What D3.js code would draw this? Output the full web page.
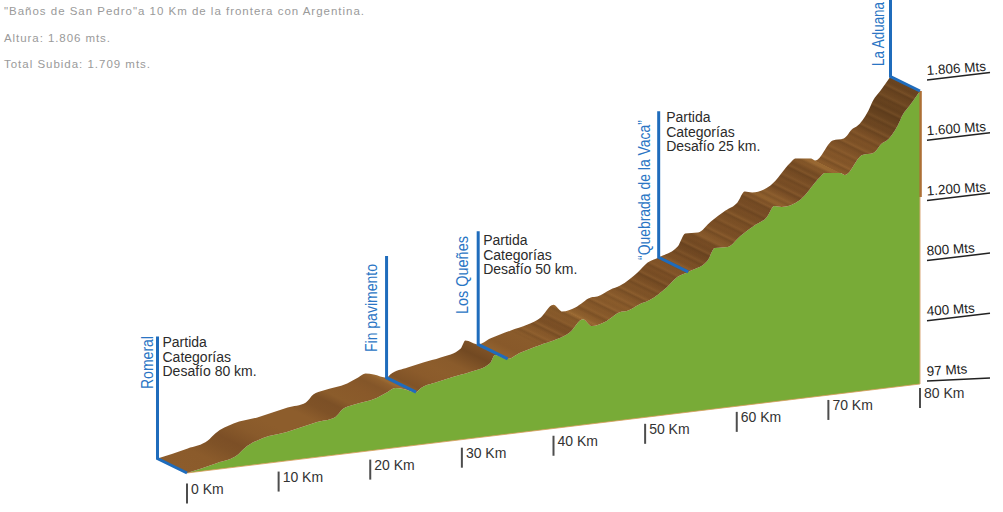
<!DOCTYPE html>
<html>
<head>
<meta charset="utf-8">
<style>
html, body { margin: 0; padding: 0; background: #fff; overflow: hidden; }
text { font-family: "Liberation Sans", Arial, sans-serif; }
</style>
<script src="https://cdn.jsdelivr.net/npm/d3@7"></script>
</head>
<body>
<script>
// profile
var km = [0, 3.3, 5.5, 6.3, 8.3, 10.9, 14.2, 16.2, 17, 18.1, 20.7, 21.9, 22.7, 23.6, 25, 25.4, 27.3, 29, 30.9, 33.1,
  33.6, 35, 36.3, 38.5, 40.4, 41.8, 43.2, 44.2, 45.6, 47.3, 48, 49.4, 50.5, 52.4, 53.5, 54.7, 56.8, 57.6, 59, 60.4,
  62, 63.3, 64.1, 64.9, 66.9, 69.1, 69.6, 71.3, 71.8, 73.7, 74.9, 75.9, 76.3, 77.6, 78.1, 78.9, 80];
var metres = [97, 134, 166, 202, 247, 266, 302, 319, 360, 376, 400, 427, 445, 434, 406, 422, 450, 469, 485, 524,
  567, 535, 561, 593, 616, 647, 714, 667, 682, 729, 730, 761, 778, 842, 893, 915, 966, 1035, 1032, 1088,
  1141, 1180, 1238, 1227, 1255, 1375, 1395, 1384, 1369, 1473, 1477, 1529, 1538, 1623, 1678, 1730, 1806];

var kmTicks = [0, 10, 20, 30, 40, 50, 60, 70, 80];
var altLabels = ["97 Mts", "400 Mts", "800 Mts", "1.200 Mts", "1.600 Mts", "1.806 Mts"];

var placeNames = ["Romeral", "Fin pavimento", "Los Queñes", "“Quebrada de la Vaca”", "La Aduana"];
var placeKm = [0, 25, 35, 54.7, 80];
var poleMetres = [712, 710, 660, 852, 600];
var noteLines = [["Partida", "Categorías", "Desafío 80 km."], null,
  ["Partida", "Categorías", "Desafío 50 km."], ["Partida", "Categorías", "Desafío 25 km."], null];

var headerLines = ["\"Baños de San Pedro\"a 10 Km de la frontera con Argentina.", "Altura: 1.806 mts.", "Total Subida: 1.709 mts."];

var w = 1003, h = 512;
var depthX = -29.5, depthY = -14.5;

var svg = d3.select("body").append("svg").attr("width", w).attr("height", h);
var defs = svg.append("defs");

var xKm = d3.scaleLinear().domain([0, 80]).range([187, 920]);
var yBase = d3.scaleLinear().domain([0, 80]).range([473, 384]);
var lift = d3.scaleLinear().domain([97, 1806]).range([0, 293]);
var poleLen = d3.scaleLinear().domain([0, 1709]).range([0, 293]);
var yTick = d3.scaleLinear().domain([0, 80]).range([483.5, 388]);
var yAlt = d3.scalePoint().domain(altLabels).range([381, 80]);

var front = km.map((k, i) => [xKm(k), yBase(k) - lift(metres[i])]);
var back = front.map((p) => [p[0] + depthX, p[1] + depthY]);
var elevAt = (k) => metres[km.indexOf(k)];
var curved = d3.line().curve(d3.curveMonotoneX);
var ribbon = (a, b) => curved(a) + "L" + curved(b.slice().reverse()).slice(1) + "Z";

// green side wall
svg.append("path")
  .attr("d", curved(front) + "L" + xKm(80) + "," + yBase(80) + "L" + xKm(0) + "," + yBase(0) + "Z")
  .attr("fill", "#78ab37");

svg.append("line")
  .attr("x1", xKm(0)).attr("y1", yBase(0)).attr("x2", xKm(80)).attr("y2", yBase(80))
  .attr("stroke", "#d99a5b").attr("stroke-width", 0.8);
svg.append("line")
  .attr("x1", xKm(80)).attr("y1", yBase(80)).attr("x2", xKm(80)).attr("y2", 197)
  .attr("stroke", "#d9a878").attr("stroke-width", 1);
svg.append("line")
  .attr("x1", xKm(80) + 0.6).attr("y1", front[front.length - 1][1]).attr("x2", xKm(80) + 0.6).attr("y2", 197)
  .attr("stroke", "#ad6f35").attr("stroke-width", 2.4);

// brown top surface: one gradient running square to the depth direction,
// with a stop per profile point, so the colour bands follow the ribs
var shade = d3.scaleLinear().domain([-0.2, 0.3, 0.8, 1.6])
  .range(["#9c6b33", "#8d5d2c", "#7a4e25", "#65411e"]).clamp(true);
var slopes = d3.pairs(front).map((p) => (p[0][1] - p[1][1]) / (p[1][0] - p[0][0]));
var vertexShade = front.map((p, i) => shade((slopes[Math.max(i - 1, 0)] + slopes[Math.min(i, slopes.length - 1)]) / 2));

var len = Math.hypot(depthX, depthY);
var nx = -depthY / len, ny = depthX / len;
var along = front.map((p) => (p[0] - front[0][0]) * nx + (p[1] - front[0][1]) * ny);
var total = d3.max(along);
var grad = defs.append("linearGradient").attr("id", "ribs")
  .attr("gradientUnits", "userSpaceOnUse")
  .attr("x1", front[0][0]).attr("y1", front[0][1])
  .attr("x2", front[0][0] + nx * total).attr("y2", front[0][1] + ny * total);
grad.selectAll("stop").data(front).enter().append("stop")
  .attr("offset", (d, i) => Math.max(0, d3.max(along.slice(0, i + 1))) / total)
  .attr("stop-color", (d, i) => vertexShade[i]);

svg.append("path")
  .attr("d", ribbon(front, back))
  .attr("fill", "url(#ribs)");

// faint striations on the upper part of the climb
var stripe = defs.append("linearGradient").attr("id", "stripes")
  .attr("gradientUnits", "userSpaceOnUse")
  .attr("spreadMethod", "repeat")
  .attr("x1", 0).attr("y1", 0).attr("x2", nx * 23).attr("y2", ny * 23);
[[0, "#3a2410", 0], [0.12, "#3a2410", 0.14], [0.24, "#c08a4c", 0.12], [0.45, "#3a2410", 0.02], [0.6, "#3a2410", 0.18], [0.7, "#c08a4c", 0.14], [0.86, "#3a2410", 0.06], [1, "#3a2410", 0]]
  .forEach((s) => stripe.append("stop").attr("offset", s[0]).attr("stop-color", s[1]).attr("stop-opacity", s[2]));
var from = km.indexOf(38.5);
svg.append("path")
  .attr("d", ribbon(front.slice(from), back.slice(from)))
  .attr("fill", "url(#stripes)");

// km axis
var kmG = svg.selectAll("g.km").data(kmTicks).enter().append("g").attr("class", "km");
kmG.append("line")
  .attr("x1", (d) => xKm(d)).attr("x2", (d) => xKm(d))
  .attr("y1", (d) => yTick(d)).attr("y2", (d) => yTick(d) + 20)
  .attr("stroke", "#4d4d4d").attr("stroke-width", 2);
kmG.append("text")
  .attr("x", (d) => xKm(d) + 4).attr("y", (d) => yTick(d) + 10)
  .attr("font-size", 14).attr("fill", "#333")
  .text((d) => d + " Km");

// altitude labels
var altG = svg.selectAll("g.alt").data(altLabels).enter().append("g").attr("class", "alt");
altG.append("line")
  .attr("x1", 927).attr("x2", 990)
  .attr("y1", (d) => yAlt(d))
  .attr("y2", (d, i) => yAlt(d) - (i === 0 ? 3 : 7.5))
  .attr("stroke", "#222").attr("stroke-width", 1.5);
altG.append("text")
  .attr("transform", (d) => "translate(927," + (yAlt(d) - 5) + ") rotate(-4)")
  .attr("font-size", 13.5).attr("fill", "#222")
  .text((d) => d);

// place poles
var labelGap = [4.5, 9.5, 10.5, 9, 7];
var labelBottom = [389, 352, 314, 260, 66];
var labelLength = [53, 88, 78, 140, 64];
var noteX = [5, 0, 5, 7.5, 0];
var noteY = [11, 0, 14, 11, 0];
placeKm.forEach((k, i) => {
  var fx = xKm(k), fy = yBase(k) - lift(elevAt(k));
  var bx = fx + depthX, by = fy + depthY;
  var topY = by - poleLen(poleMetres[i]);
  svg.append("path")
    .attr("d", d3.line()([[bx, topY], [bx, by], [fx, fy]]))
    .attr("fill", "none").attr("stroke", "#1f6cbc").attr("stroke-width", 3);
  var label = svg.append("text")
    .attr("font-size", 17).attr("fill", "#2a75c4")
    .text(placeNames[i]);
  // narrow the type to the width it has in the picture
  var squeeze = labelLength[i] / label.node().getComputedTextLength();
  label.attr("transform", "translate(" + (bx - labelGap[i]) + "," + labelBottom[i] + ") rotate(-90) scale(" + squeeze + ",1)");
  if (noteLines[i]) {
    noteLines[i].forEach((line, j) => {
      svg.append("text")
        .attr("x", bx + noteX[i]).attr("y", topY + noteY[i] + j * 14.5)
        .attr("font-size", 14).attr("fill", "#2b2b2b")
        .text(line);
    });
  }
});

// header
var headerLength = [360, 106, 146];
svg.selectAll("text.head").data(headerLines).enter().append("text")
  .attr("class", "head")
  .attr("x", 4).attr("y", (d, i) => 15 + i * 26.5)
  .attr("font-size", 11.5).attr("fill", "#9a9a9a")
  .attr("textLength", (d, i) => headerLength[i])
  .text((d) => d);
</script>
</body>
</html>
